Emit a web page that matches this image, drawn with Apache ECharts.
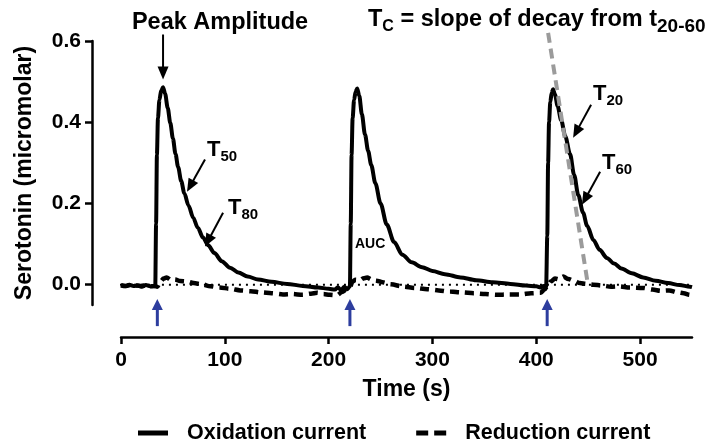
<!DOCTYPE html>
<html><head><meta charset="utf-8">
<script src="https://cdn.jsdelivr.net/npm/echarts@6/dist/echarts.min.js"></script>
<style>html,body{margin:0;padding:0;background:#fff}#c{width:723px;height:444px}</style>
</head><body><div id="c"></div>
<script>
// ---------- data ----------
const oxTime = [0,4,8,12,16,20,24,28,31,33,33.8,34.6,35.6,37,38.7,40.5,42.5,45,47.5,50,52.5,55,58,61,65,69.5,74,79,84,90,97,105,113,122,132,145,160,175,190,200,206,209,212,215,218,220.5,221.3,222.1,223.1,224.5,226,227.5,229.5,232,235,238,241,245,250,256,263,271,280,290,300,312,327,342,358,375,390,400,404,407,409.5,410.6,411.4,412.3,413.5,414.8,416.2,418,420.5,424,428,432.5,436.5,440.5,445,449,455,461,468,475,482,492,503,515,527,538,548,550];
const oxValue = [-0.002,-0.004,0.000,-0.003,-0.002,-0.005,-0.001,-0.004,-0.003,-0.004,0.15,0.32,0.41,0.455,0.478,0.486,0.47,0.435,0.398,0.36,0.322,0.29,0.255,0.225,0.195,0.165,0.14,0.116,0.097,0.078,0.058,0.042,0.03,0.02,0.013,0.007,0.002,-0.003,-0.007,-0.01,-0.012,-0.006,-0.014,-0.005,-0.011,-0.004,0.15,0.32,0.41,0.455,0.475,0.483,0.465,0.42,0.37,0.33,0.295,0.25,0.2,0.148,0.105,0.074,0.055,0.043,0.034,0.026,0.018,0.011,0.006,0.002,-0.002,-0.004,-0.007,-0.003,-0.006,0.12,0.3,0.4,0.45,0.472,0.481,0.468,0.44,0.405,0.365,0.322,0.27,0.22,0.178,0.145,0.11,0.086,0.066,0.052,0.04,0.028,0.018,0.01,0.004,-0.001,-0.005,-0.006];
const redTime = [0,5,10,15,20,25,30,33,35,38,41,44,48,52,57,63,70,78,86,95,105,115,125,135,145,156,165,175,183,189,195,201,208,213,217,220.5,223,226,230,234,237,241,246,252,260,272,283,295,306,317,328,340,351,362,373,385,395,404,408,411,414,418,422,426,431,436,442,448,455,463,472,480,490,503,512,520,528,536,542,548,550];
const redValue = [-0.001,-0.003,0.0,-0.002,-0.003,-0.001,-0.004,-0.003,-0.005,0.008,0.015,0.018,0.012,0.013,0.009,0.008,0.004,0.001,-0.004,-0.007,-0.01,-0.014,-0.016,-0.019,-0.021,-0.024,-0.023,-0.025,-0.022,-0.02,-0.023,-0.025,-0.026,-0.018,-0.012,-0.006,0.008,0.012,0.011,0.016,0.018,0.013,0.01,0.006,0.001,-0.005,-0.008,-0.011,-0.014,-0.017,-0.019,-0.021,-0.023,-0.025,-0.024,-0.024,-0.021,-0.02,-0.012,-0.002,0.008,0.015,0.013,0.02,0.014,0.01,0.004,0.002,0.0,-0.002,-0.005,-0.004,-0.007,-0.008,-0.012,-0.015,-0.014,-0.019,-0.021,-0.025,-0.024];
const xTicks = [0,100,200,300,400,500];
const yTicks = [0,0.2,0.4,0.6];
const injectionTimes = [35, 220.5, 410.5];
const tangentTime = [411.4, 449];
const tangentValue = [0.62, 0.012];
const zeroLineTime = [-28, 551];
const seriesNames = ['Oxidation current','Reduction current'];

// annotation arrows: [fromTime, fromValue, toTime(tip), toValue(tip)]
const noteArrows = [
  [40.5,0.616,40.5,0.505],
  [80.9,0.308,63.6,0.229],
  [98.3,0.177,80.9,0.094],
  [452.8,0.443,435.5,0.362],
  [461.5,0.278,444,0.197]
];
// annotation texts (anchor in data space)
const noteAnchors = [[95.4,0.646],[237.9,0.653],[82.8,0.332],[103.1,0.190],[454.6,0.4695],[463.3,0.301],[225.4,0.099]];
const noteTexts = [
  [['Peak Amplitude','L']],
  [['T','L'],['C','s2'],[' = slope of decay from t','L'],['20-60','sl']],
  [['T','m'],['50','s']],
  [['T','m'],['80','s']],
  [['T','m'],['20','s']],
  [['T','m'],['60','s']],
  [['AUC','xs']]
];
const noteAlign = ['center','left','left','left','left','left','left'];

// ---------- styles ----------
const FONT = '"Liberation Sans", Arial, Helvetica, sans-serif';
const SIZES = {L:23.5, m:22, s:15, s2:16, sl:19, xs:14};
const SUB_DY = {L:0, m:0, s:7, s2:7, sl:7, xs:0};
const mctx = document.createElement('canvas').getContext('2d');
function tw(t, size){ mctx.font = 'bold ' + size + 'px ' + FONT; return mctx.measureText(t).width; }

function arrowItem(color, lw, hl, hwid){
  return function(params, api){
    const p1 = api.coord([api.value(0), api.value(1)]);
    const p2 = api.coord([api.value(2), api.value(3)]);
    const dx = p2[0]-p1[0], dy = p2[1]-p1[1];
    const len = Math.hypot(dx, dy);
    const ux = dx/len, uy = dy/len;
    const bx = p2[0]-ux*hl, by = p2[1]-uy*hl;
    const hw = hwid/2;
    return {type:'group', children:[
      {type:'line', shape:{x1:p1[0], y1:p1[1], x2:bx+ux*1, y2:by+uy*1}, style:{stroke:color, lineWidth:lw}},
      {type:'polygon', shape:{points:[[p2[0],p2[1]],[bx-uy*hw, by+ux*hw],[bx+uy*hw, by-ux*hw]]}, style:{fill:color}}
    ]};
  };
}

const chart = echarts.init(document.getElementById('c'), null, {renderer:'canvas'});
const axisText = {color:'#000', fontFamily:FONT, fontWeight:'bold', fontSize:21};

chart.setOption({
  animation:false,
  backgroundColor:'#fff',
  grid:{left:121, right:31, top:41, bottom:139, containLabel:false, outerBoundsMode:'none'},
  legend:{
    data:[
      {name:seriesNames[0], icon:'path://M0,0H30V5H0Z'},
      {name:seriesNames[1], icon:'path://M0,0H12V5H0Z M18,0H30V5H18Z'}
    ],
    left:138, top:422, padding:0, itemWidth:30, itemHeight:5, itemGap:50,
    itemStyle:{color:'#000'},
    textStyle:{color:'#000', fontFamily:FONT, fontWeight:'bold', fontSize:21.5, padding:[0,0,0,14]}
  },
  xAxis:{
    type:'value', min:0, max:550, interval:100, offset:32,
    name:'Time (s)', nameLocation:'middle', nameGap:41,
    nameTextStyle:{color:'#000', fontFamily:FONT, fontWeight:'bold', fontSize:23},
    axisLine:{onZero:false, lineStyle:{color:'#000', width:2.5}},
    axisTick:{show:true, inside:false, length:7, lineStyle:{color:'#000', width:2.5}, customValues:xTicks},
    axisLabel:Object.assign({margin:13, customValues:xTicks}, axisText),
    splitLine:{show:false}
  },
  yAxis:{
    type:'value', min:-0.05, max:0.6, offset:29,
    name:'Serotonin (micromolar)', nameLocation:'middle', nameGap:56, nameRotate:90,
    nameTextStyle:{color:'#000', fontFamily:FONT, fontWeight:'bold', fontSize:23},
    axisLine:{show:true, onZero:false, lineStyle:{color:'#000', width:2.5}},
    axisTick:{show:true, inside:false, length:7, lineStyle:{color:'#000', width:2.5}, customValues:yTicks},
    axisLabel:Object.assign({margin:11, customValues:yTicks, formatter:v=>v.toFixed(1)}, axisText),
    splitLine:{show:false}
  },
  series:[
    {type:'line', name:'zero', data:zeroLineTime.map(t=>[t,0]), clip:false, symbol:'none', silent:true,
      lineStyle:{color:'#000', width:2, type:[2,5]}, z:1},
    {type:'line', name:seriesNames[1], data:redTime.map((t,i)=>[t,redValue[i]]), symbol:'none', showSymbol:false,
      smooth:0.3, smoothMonotone:'x', clip:false,
      lineStyle:{color:'#000', width:4.5, type:[9,6]}, itemStyle:{color:'#000'}, z:2},
    {type:'line', name:seriesNames[0], data:oxTime.map((t,i)=>[t,oxValue[i]]), symbol:'none', showSymbol:false,
      smooth:0.3, smoothMonotone:'x', clip:false,
      lineStyle:{color:'#000', width:4}, itemStyle:{color:'#000'}, z:3},
    {type:'line', name:'tangent', data:tangentTime.map((t,i)=>[t,tangentValue[i]]), symbol:'none', clip:false, silent:true,
      lineStyle:{color:'#9b9b9b', width:4, type:[10,6]}, z:4},
    {type:'custom', name:'injections', clip:false, silent:true, z:5,
      data:injectionTimes.map(t=>[t,-0.102,t,-0.035]),
      renderItem:arrowItem('#2d3d9e', 3, 11, 11)},
    {type:'custom', name:'notes', clip:false, silent:true, z:5,
      data:noteArrows,
      renderItem:arrowItem('#000', 2, 13, 11)},
    {type:'custom', name:'texts', clip:false, silent:true, z:6,
      data:noteAnchors,
      renderItem:function(params, api){
        const pieces = noteTexts[params.dataIndex];
        const p = api.coord([api.value(0), api.value(1)]);
        const total = pieces.reduce((s,pc)=>s+tw(pc[0], SIZES[pc[1]]),0);
        let x = noteAlign[params.dataIndex]==='center' ? p[0]-total/2 : p[0];
        const children = pieces.map(pc=>{
          const size = SIZES[pc[1]];
          const el = {type:'text', x:x, y:p[1]+SUB_DY[pc[1]], style:{text:pc[0], fill:'#000', fontFamily:FONT, fontWeight:'bold', fontSize:size, align:'left', verticalAlign:'middle'}};
          x += tw(pc[0], size);
          return el;
        });
        return {type:'group', children:children};
      }}
  ]
});
</script>
</body></html>
